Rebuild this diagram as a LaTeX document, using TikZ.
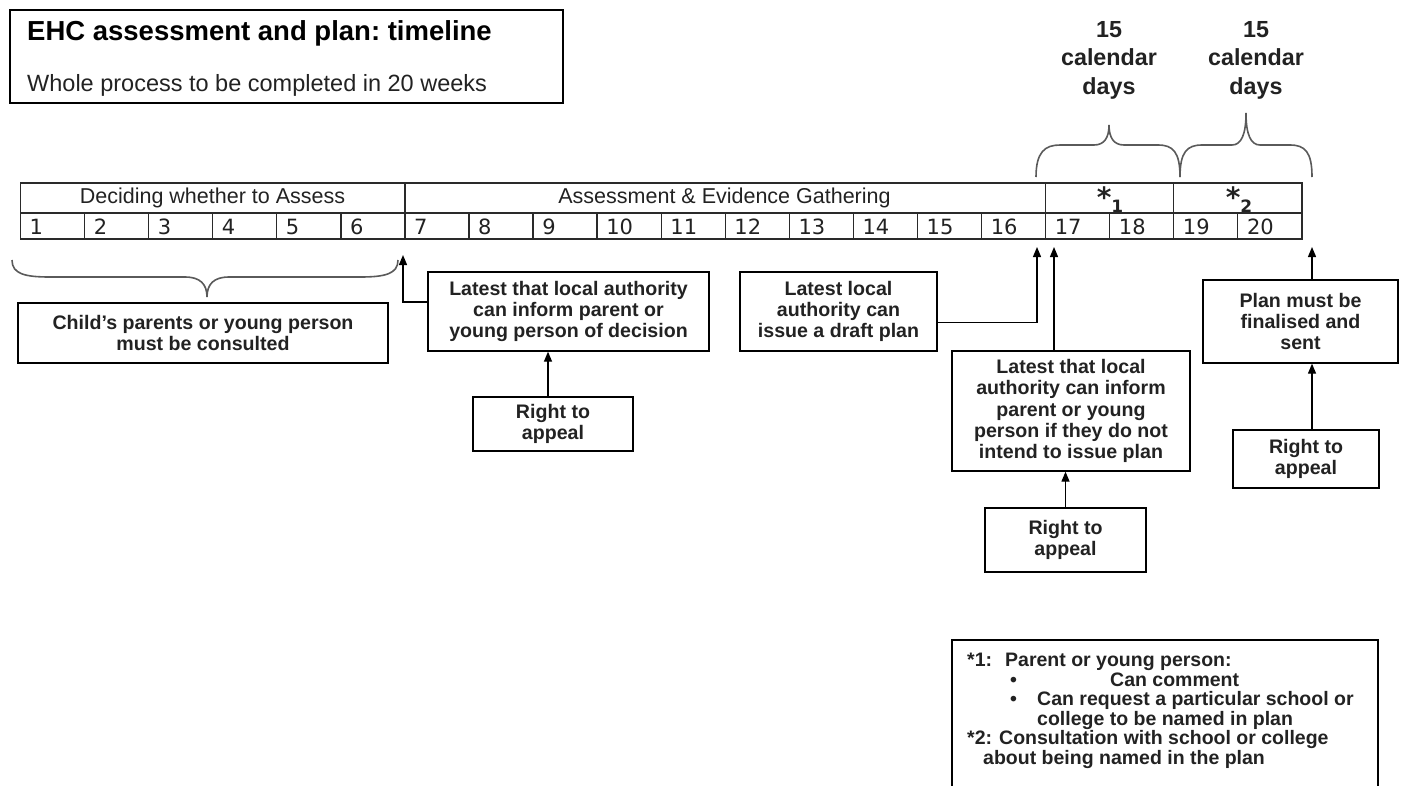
\documentclass[tikz,border=0pt]{standalone}
\usepackage{fontspec}
\setmainfont{Liberation Sans}
\newfontfamily\numfont{DejaVu Sans}
\usetikzlibrary{arrows.meta,calc}
\frenchspacing
\definecolor{linegray}{HTML}{2A2A2A}
\definecolor{bracegray}{HTML}{5A5A5A}
\definecolor{txtgray}{HTML}{222222}
\tikzset{
  boxline/.style={draw=black, line width=1.3pt},
  box/.style={boxline, align=center, inner sep=0pt, text=txtgray,
    font=\bfseries\fontsize{19.6}{21.3}\selectfont},
  tline/.style={draw=linegray, line width=1.3pt},
  bracel/.style={draw=bracegray, line width=1.6pt},
  arr/.style={draw=black, line width=1.3pt, -{Triangle[width=8pt,length=10pt]}},
  hdr/.style={inner sep=0pt, text=txtgray, font=\fontsize{21.5}{24}\selectfont},
  numtext/.style={inner sep=0pt, anchor=west, text=txtgray, font=\numfont\fontsize{21}{24}\selectfont},
  startext/.style={inner sep=0pt, text=txtgray, font=\numfont\bfseries\fontsize{28}{30}\selectfont},
  daystext/.style={inner sep=0pt, align=center, text=txtgray, font=\bfseries\fontsize{23.3}{28.5}\selectfont},
  legendtext/.style={inner sep=0pt, align=left, text=txtgray, font=\bfseries\fontsize{19.5}{19.5}\selectfont},
}
\begin{document}
\begin{tikzpicture}[x=1pt,y=-1pt]
\useasboundingbox (0,0) rectangle (1405,785);

% title box
\node[boxline, minimum width=553, minimum height=93, inner sep=0pt] (titlebox) at (286.5,56.5) {};
\node[anchor=base west, inner sep=0pt, text=black, font=\bfseries\fontsize{27.5}{30}\selectfont] (title) at (27,40) {EHC assessment and plan: timeline};
\node[anchor=base west, inner sep=0pt, text=txtgray, font=\fontsize{23.5}{26}\selectfont] (subtitle) at (27,91) {Whole process to be completed in 20 weeks};

% timeline table
\draw[tline] (20.5,183) rectangle (1302,239);
\draw[tline] (20.5,213) -- (1302,213);
\foreach \i in {1,...,19} {
  \draw[tline] ({20.5+64.07*\i},213) -- ({20.5+64.07*\i},239);
}
\foreach \i in {6,16,18} {
  \draw[tline] ({20.5+64.07*\i},183) -- ({20.5+64.07*\i},213);
}
\node[hdr] (h1) at (212.5,198) {Deciding whether to Assess};
\node[hdr] (h2) at (724.5,198) {Assessment \& Evidence Gathering};
\node[startext, anchor=base] (h3) at (1110,207) {*\raisebox{-5pt}{\fontsize{17}{17}\selectfont 1}};
\node[startext, anchor=base] (h4) at (1239,207) {*\raisebox{-5pt}{\fontsize{17}{17}\selectfont 2}};
\foreach \i in {1,...,20} {
  \node[numtext] (n\i) at ({20.5+64.07*(\i-1)+9},226.5) {\i};
}

% braces
\draw[bracel] (12,260) .. controls (12,274) and (25,277) .. (50,277) -- (185,277)
  .. controls (200,277) and (207,284) .. (207,297)
  .. controls (207,284) and (214,277) .. (229,277) -- (360,277)
  .. controls (385,277) and (398,274) .. (398,260);
\draw[bracel] (1036,177) .. controls (1036,152) and (1045,145) .. (1060,145) -- (1094,145)
  .. controls (1104,145) and (1109,138) .. (1109,125)
  .. controls (1109,138) and (1114,145) .. (1124,145) -- (1158,145)
  .. controls (1173,145) and (1180,152) .. (1180,177);
\draw[bracel] (1180,177) .. controls (1180,152) and (1187,145) .. (1202,145) -- (1232,145)
  .. controls (1241,145) and (1246,135) .. (1246,113)
  .. controls (1246,135) and (1251,145) .. (1260,145) -- (1290,145)
  .. controls (1305,145) and (1312,152) .. (1312,177);

\node[daystext] (d1) at (1109,60) {15\\calendar\\days};
\node[daystext] (d2) at (1256,60) {15\\calendar\\days};

% boxes
\node[box, minimum width=370, minimum height=60] (b2) at (203,333) {Child’s parents or young person\\must be consulted};
\node[box, minimum width=281, minimum height=79] (b3) at (568.5,311.5) {Latest that local authority\\can inform parent or\\young person of decision};
\node[box, minimum width=160, minimum height=54] (r1) at (553,424) {Right to\\appeal};
\node[box, minimum width=197, minimum height=79] (b5) at (838.5,311.5) {Latest local\\authority can\\issue a draft plan};
\node[box, minimum width=238, minimum height=120] (b6) at (1071,411) {Latest that local\\authority can inform\\parent or young\\person if they do not\\intend to issue plan};
\node[box, minimum width=161, minimum height=64] (r2) at (1065.5,540) {Right to\\appeal};
\node[box, minimum width=195, minimum height=83] (b8) at (1300.5,321.5) {Plan must be\\finalised and\\sent};
\node[box, minimum width=146, minimum height=58] (r3) at (1306,459) {Right to\\appeal};

% connector ends
\coordinate (tA) at (403,255);
\coordinate (tB) at (1037,247);
\coordinate (tC) at (1054,247);
\coordinate (tD) at (1312,247);

\draw[arr] ($(b3.north west)!0.38!(b3.south west)$) -| (tA);
\draw[arr] ($(b5.north east)!0.64!(b5.south east)$) -| (tB);
\draw[arr] (b6.north -| tC) -- (tC);
\draw[arr] (r2.north) -- (r2.north |- b6.south);
\draw[arr] ([xshift=-5pt]r1.north) -- ([xshift=-5pt]r1.north |- b3.south);
\draw[arr] (b8.north -| tD) -- (tD);
\draw[arr] (r3.north -| tD) -- (tD |- b8.south);

% legend
\draw[boxline] (952,790) -- (952,640) -- (1378,640) -- (1378,790);
\node[legendtext, anchor=north west] (legend) at (967,653) {\makebox[38pt][l]{*1:}Parent or young person:\\
\hspace*{43pt}\makebox[100pt][l]{\textbullet}Can comment\\
\hspace*{43pt}\makebox[27pt][l]{\textbullet}Can request a particular school or\\
\hspace*{70pt}college to be named in plan\\
\makebox[32pt][l]{*2:}Consultation with school or college\\
\hspace*{16pt}about being named in the plan};
\end{tikzpicture}
\end{document}
